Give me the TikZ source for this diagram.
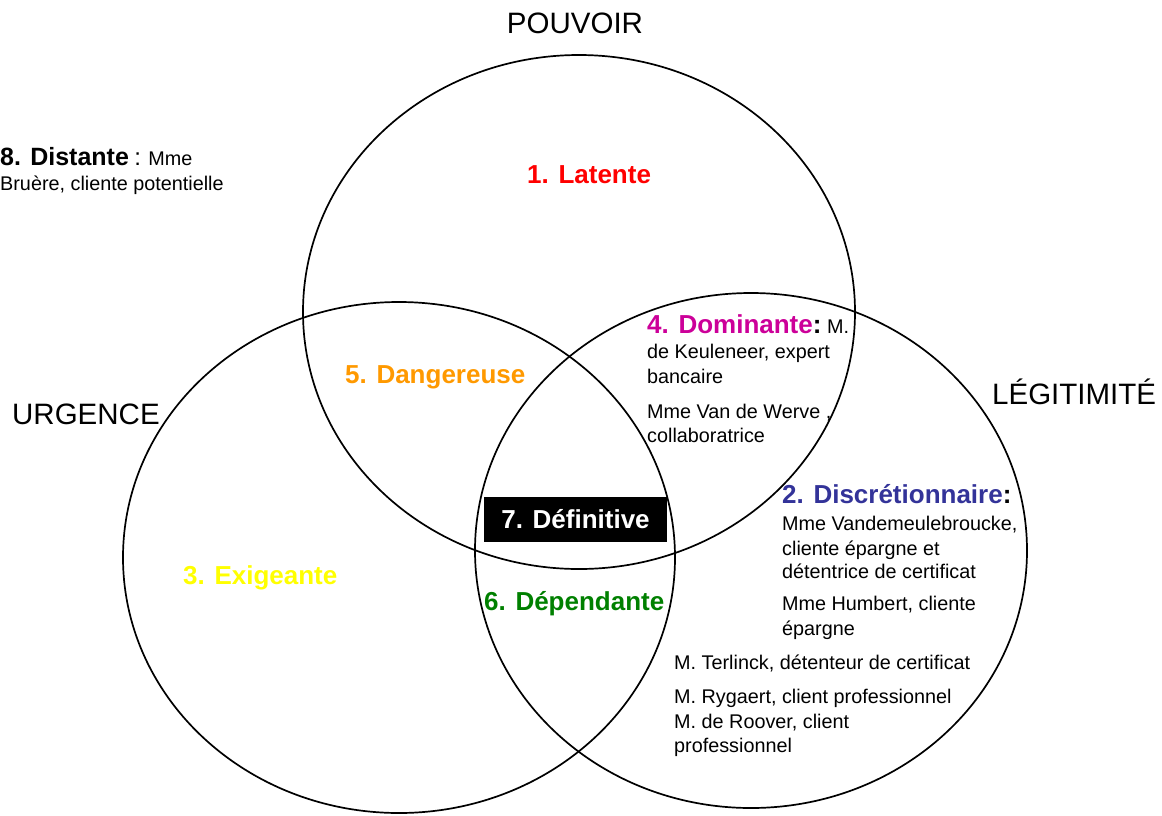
\documentclass[tikz,border=0pt]{standalone}
\usepackage{fontspec}
\setmainfont{Liberation Sans}
\usetikzlibrary{shapes.geometric}
\definecolor{cLat}{HTML}{FF0000}
\definecolor{cDan}{HTML}{FF9900}
\definecolor{cExi}{HTML}{FFFF00}
\definecolor{cDom}{HTML}{CC0099}
\definecolor{cDis}{HTML}{333399}
\definecolor{cDep}{HTML}{008000}
\begin{document}
\begin{tikzpicture}[x=1pt,y=-1pt,
  venn/.style={draw, ellipse, line width=1.7pt, inner sep=0pt, minimum width=552pt, minimum height=514pt},
  txt/.style={anchor=base west, inner sep=0pt, font=\fontsize{19.8}{24}\selectfont},
  lbl/.style={anchor=base west, inner sep=0pt, font=\bfseries\fontsize{26}{30}\selectfont},
  hdr/.style={anchor=base west, inner sep=0pt, font=\fontsize{29.5}{34}\selectfont},
  defbox/.style={fill=black, text=white, inner sep=0pt, minimum width=183pt, minimum height=45pt, font=\bfseries\fontsize{26}{30}\selectfont}]
\useasboundingbox (0,0) rectangle (1162,815);
% circles
\node[venn] (pouvoir) at (579,312) {};
\node[venn, minimum height=511pt] (urgence) at (399,557.5) {};
\node[venn, minimum height=515pt] (legit) at (751,550.5) {};
% headers
\node[hdr, anchor=base] (hP) at (575,33) {POUVOIR};
\node[hdr] (hU) at (12,424) {URGENCE};
\node[hdr] (hL) at (992,404) {LÉGITIMITÉ};
% 1
\node[lbl, text=cLat] (l1) at (527,183) {1. Latente};
% 8
\node[txt] (l8) at (0,165) {{\bfseries\fontsize{25}{30}\selectfont 8. Distante} {\fontsize{24}{30}\selectfont :} Mme};
\node[txt] (l8b) at (0,190) {Bruère, cliente potentielle};
% 4
\node[lbl] (l4) at (647,333) {\textcolor{cDom}{4. Dominante}:\mdseries\fontsize{19.8}{24}\selectfont\ M.};
\node[txt] (l4a) at (647,358) {de Keuleneer, expert};
\node[txt] (l4b) at (647,383) {bancaire};
\node[txt] (l4c) at (647,418) {Mme Van de Werve ,};
\node[txt] (l4d) at (647,442) {collaboratrice};
% 5
\node[lbl, text=cDan] (l5) at (345,383) {5. Dangereuse};
% 7
\node[defbox] (l7) at (575.5,519) {7. Définitive};
% 2
\node[lbl] (l2) at (782,503) {\textcolor{cDis}{2. Discrétionnaire}:};
\node[txt] (l2a) at (782,530) {Mme Vandemeulebroucke,};
\node[txt] (l2b) at (782,555) {cliente épargne et};
\node[txt] (l2c) at (782,578) {détentrice de certificat};
\node[txt] (l2d) at (782,610) {Mme Humbert, cliente};
\node[txt] (l2e) at (782,635) {épargne};
% 3
\node[lbl, text=cExi] (l3) at (183,584) {3. Exigeante};
% 6
\node[lbl, text=cDep] (l6) at (484,610) {6. Dépendante};
% others
\node[txt] (m1) at (674,669) {M. Terlinck, détenteur de certificat};
\node[txt] (m2) at (674,703) {M. Rygaert, client professionnel};
\node[txt] (m3) at (674,728) {M. de Roover, client};
\node[txt] (m4) at (674,752) {professionnel};
\end{tikzpicture}
\end{document}
